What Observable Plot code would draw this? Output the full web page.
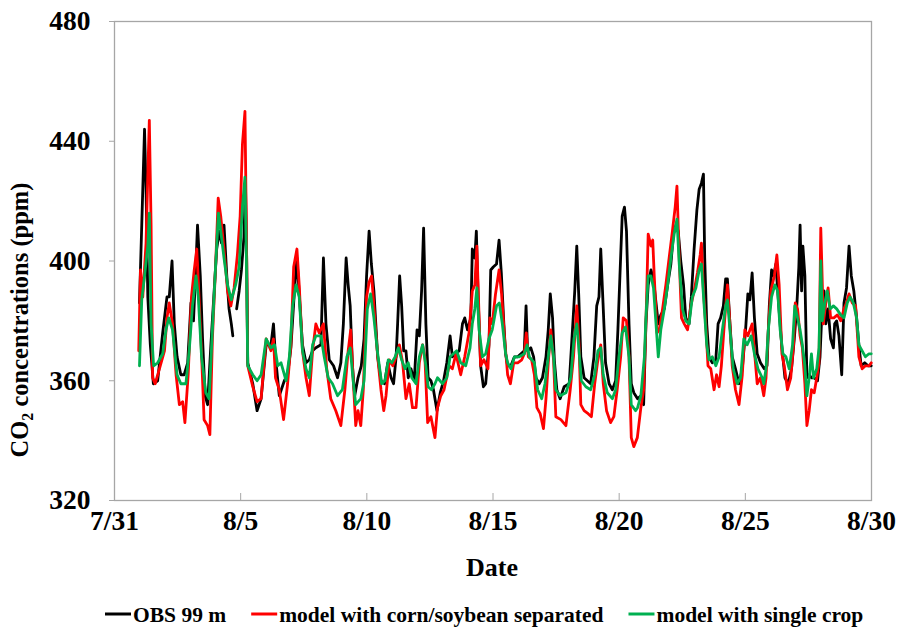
<!DOCTYPE html>
<html><head><meta charset="utf-8">
<script src="https://cdn.jsdelivr.net/npm/d3@7"></script>
<script src="https://cdn.jsdelivr.net/npm/@observablehq/plot@0.6"></script>
<style>
body{margin:0;background:#fff}
#chart svg text{font-family:"Liberation Serif","Times New Roman",serif;font-weight:bold}
</style>
</head><body><div id="chart"></div>
<script>
// Axis ticks (days since 7/31 00:00) and labels
const xTickDays = [0, 5, 10, 15, 20, 25, 30];
const xTickLabels = ["7/31", "8/5", "8/10", "8/15", "8/20", "8/25", "8/30"];
const yTicks = [320, 360, 400, 440, 480];
const seriesNames = ["OBS 99 m", "model with corn/soybean separated", "model with single crop"];
const seriesColors = ["#000000", "#ff0000", "#00b050"];

// OBS 99 m
const obsDay = [0.99,1.08,1.19,1.25,1.32,1.42,1.54,1.71,1.91,2.08,2.17,2.28,2.37,2.48,2.63,2.76,2.90,3.03,3.13,3.23,3.29,3.40,3.49,3.59,3.69,3.82,3.95,4.05,4.15,4.24,4.34,4.45,4.54,4.63,4.69,4.76,4.84,4.94,5.03,5.13,5.19,5.24,5.28,5.48,5.65,5.81,6.01,6.20,6.30,6.38,6.53,6.73,6.86,6.99,7.13,7.23,7.32,7.45,7.59,7.72,7.85,7.98,8.18,8.28,8.38,8.51,8.68,8.84,8.97,9.07,9.18,9.26,9.34,9.43,9.52,9.65,9.78,9.89,9.99,10.09,10.18,10.28,10.43,10.56,10.70,10.83,10.96,11.06,11.16,11.22,11.30,11.38,11.46,11.55,11.64,11.75,11.88,11.99,12.08,12.17,12.25,12.34,12.43,12.54,12.64,12.78,12.91,13.04,13.17,13.30,13.39,13.53,13.66,13.79,13.88,13.99,14.12,14.18,14.28,14.34,14.41,14.51,14.62,14.71,14.84,14.91,15.01,15.14,15.24,15.33,15.43,15.50,15.58,15.71,15.85,15.98,16.11,16.24,16.31,16.37,16.50,16.61,16.70,16.83,16.96,17.10,17.19,17.27,17.36,17.43,17.53,17.66,17.82,18.02,18.15,18.24,18.32,18.40,18.48,18.61,18.74,18.87,19.00,19.11,19.20,19.27,19.36,19.46,19.60,19.73,19.86,19.95,20.03,20.12,20.21,20.29,20.39,20.48,20.58,20.73,20.86,20.97,21.06,21.15,21.26,21.36,21.46,21.55,21.65,21.79,21.92,22.05,22.15,22.25,22.34,22.44,22.55,22.64,22.77,22.86,22.97,23.08,23.17,23.26,23.34,23.39,23.47,23.56,23.69,23.83,23.92,24.02,24.13,24.22,24.29,24.39,24.48,24.61,24.75,24.88,25.01,25.10,25.18,25.27,25.36,25.47,25.60,25.75,25.86,25.95,26.04,26.12,26.21,26.30,26.44,26.57,26.70,26.83,26.94,27.04,27.12,27.17,27.23,27.28,27.36,27.44,27.53,27.62,27.73,27.86,27.96,28.05,28.12,28.19,28.28,28.38,28.49,28.54,28.62,28.71,28.82,28.91,29.01,29.11,29.20,29.30,29.41,29.50,29.59,29.73,29.86,29.99];
const obsPpm = [386,412,444,424,388,372,359,360,376,388,388,400,379,368,362,362,366,386,380,399,412,395,374,355,352,372,390,404,410,406,412,395,384,379,375,null,384,390,397,408,426,400,366,359,350,354,372,372,379,368,355,360,362,371,390,401,389,372,366,367,370,371,372,401,379,367,365,361,366,379,401,392,385,365,355,361,365,374,395,410,399,390,368,360,359,366,361,359,368,379,395,385,370,370,361,364,360,377,375,390,411,379,361,360,357,350,356,360,366,375,368,369,370,379,381,377,381,404,401,410,388,365,358,359,372,397,398,399,407,396,379,369,365,365,368,368,369,370,385,370,371,368,361,359,361,368,377,389,381,367,357,354,358,359,377,390,405,388,368,361,360,359,368,385,388,404,386,366,359,357,360,377,395,415,418,410,379,359,356,354,355,352,379,392,397,394,386,379,382,384,392,399,409,412,410,400,392,381,379,388,404,417,424,426,429,401,379,368,366,367,379,381,385,394,394,379,368,364,359,364,377,389,387,396,381,369,366,364,365,385,397,395,399,388,372,361,359,364,374,385,398,412,390,405,395,361,362,361,361,360,368,386,390,379,384,374,371,379,380,375,362,386,391,405,395,390,381,372,365,366,365,365];

// model with corn/soybean separated
const cornDay = [0.96,1.03,1.12,1.25,1.34,1.38,1.45,1.51,1.61,1.78,1.98,2.08,2.17,2.30,2.44,2.57,2.70,2.79,2.92,3.05,3.16,3.26,3.36,3.45,3.55,3.69,3.78,3.88,4.01,4.11,4.21,4.34,4.48,4.61,4.74,4.87,4.98,5.07,5.17,5.22,5.28,5.48,5.65,5.81,6.01,6.20,6.30,6.38,6.53,6.70,6.86,6.99,7.10,7.23,7.32,7.45,7.59,7.72,7.85,7.98,8.11,8.28,8.41,8.57,8.77,8.97,9.13,9.26,9.36,9.47,9.56,9.65,9.76,9.86,9.99,10.09,10.19,10.28,10.43,10.56,10.67,10.76,10.89,11.03,11.16,11.29,11.42,11.55,11.68,11.81,11.95,12.08,12.21,12.30,12.41,12.54,12.70,12.80,12.93,13.06,13.26,13.39,13.53,13.72,13.88,14.05,14.18,14.28,14.36,14.43,14.51,14.64,14.80,14.88,14.97,15.10,15.24,15.34,15.46,15.58,15.69,15.82,15.98,16.14,16.24,16.32,16.40,16.53,16.64,16.74,16.87,17.00,17.10,17.19,17.29,17.40,17.49,17.69,17.89,18.06,18.19,18.32,18.41,18.48,18.61,18.77,18.90,19.03,19.14,19.27,19.37,19.50,19.66,19.79,19.92,20.06,20.16,20.29,20.39,20.48,20.58,20.72,20.86,20.97,21.06,21.15,21.26,21.33,21.39,21.50,21.59,21.72,21.85,21.98,22.11,22.22,22.29,22.38,22.47,22.58,22.71,22.84,22.97,23.10,23.21,23.26,23.34,23.43,23.52,23.63,23.76,23.86,23.96,24.05,24.15,24.29,24.39,24.48,24.61,24.75,24.88,24.98,25.10,25.27,25.36,25.47,25.60,25.73,25.82,25.91,26.01,26.15,26.25,26.34,26.45,26.54,26.67,26.80,26.91,26.98,27.07,27.17,27.26,27.36,27.44,27.53,27.62,27.73,27.83,27.92,27.99,28.03,28.09,28.19,28.28,28.38,28.51,28.65,28.78,28.91,29.01,29.11,29.24,29.37,29.50,29.63,29.76,29.90,29.99];
const cornPpm = [370,397,388,406,435,447,412,361,359,364,370,381,386,379,362,352,353,346,362,388,397,404,386,369,347,345,342,374,399,421,415,404,390,385,391,402,415,439,450,415,365,358,353,354,374,370,374,361,357,347,359,372,398,404,392,370,361,355,370,379,376,379,364,354,350,345,357,370,377,359,345,350,345,357,388,393,395,385,368,357,350,355,367,365,368,372,366,354,359,351,351,366,372,368,346,348,341,351,355,357,365,364,369,362,368,376,390,392,405,386,365,367,364,381,379,389,397,389,374,362,359,366,366,367,369,376,368,367,362,351,349,344,354,366,377,367,348,347,345,357,368,385,372,352,350,349,348,359,366,372,359,350,346,348,357,368,381,380,368,341,338,341,351,357,379,409,405,407,395,376,377,384,392,401,410,418,425,401,381,379,377,385,390,396,402,406,390,379,365,364,357,362,358,365,377,392,379,365,357,352,362,377,375,379,370,359,361,355,361,377,390,395,402,392,369,365,357,361,372,386,384,375,371,359,345,350,357,356,361,366,411,399,379,386,391,381,381,382,380,384,386,389,386,385,368,364,365,365,366];

// model with single crop
const singleDay = [0.99,1.08,1.19,1.32,1.38,1.45,1.55,1.71,1.91,2.04,2.15,2.30,2.48,2.63,2.83,2.96,3.09,3.23,3.32,3.45,3.62,3.75,3.88,4.01,4.12,4.21,4.34,4.48,4.63,4.80,4.94,5.07,5.17,5.22,5.28,5.48,5.65,5.81,6.01,6.20,6.34,6.47,6.60,6.80,6.93,7.06,7.19,7.32,7.45,7.59,7.72,7.85,7.98,8.18,8.31,8.47,8.64,8.84,9.03,9.21,9.34,9.47,9.56,9.76,9.89,10.02,10.15,10.28,10.43,10.59,10.72,10.85,10.99,11.12,11.25,11.38,11.51,11.64,11.78,11.95,12.08,12.21,12.34,12.43,12.56,12.70,12.80,13.00,13.17,13.30,13.43,13.56,13.72,13.92,14.09,14.18,14.28,14.36,14.45,14.58,14.71,14.84,14.97,15.14,15.25,15.37,15.50,15.58,15.71,15.85,16.04,16.24,16.35,16.44,16.64,16.77,16.93,17.06,17.19,17.29,17.40,17.49,17.66,17.89,18.08,18.21,18.32,18.41,18.50,18.68,18.87,19.03,19.16,19.27,19.37,19.53,19.73,19.86,19.99,20.12,20.25,20.39,20.48,20.65,20.73,20.86,21.00,21.06,21.15,21.26,21.36,21.46,21.55,21.65,21.79,21.92,22.05,22.18,22.29,22.38,22.51,22.64,22.77,22.90,23.04,23.17,23.26,23.36,23.47,23.56,23.69,23.83,23.96,24.09,24.22,24.29,24.39,24.52,24.68,24.81,24.94,25.07,25.23,25.36,25.50,25.67,25.73,25.82,25.91,26.04,26.17,26.28,26.38,26.49,26.61,26.74,26.87,26.96,27.07,27.17,27.26,27.36,27.44,27.53,27.62,27.70,27.83,27.92,27.99,28.05,28.15,28.25,28.36,28.49,28.62,28.78,28.91,29.04,29.15,29.28,29.41,29.50,29.63,29.76,29.90,29.99];
const singlePpm = [365,387,395,405,416,379,365,366,369,377,381,377,362,359,359,370,385,395,388,368,356,354,377,399,416,410,401,392,387,392,398,418,428,405,365,362,360,362,374,371,372,365,366,360,368,385,392,388,370,364,361,372,375,375,368,361,359,355,357,368,371,359,352,354,360,384,389,381,369,359,360,367,366,368,371,367,364,366,361,359,368,372,365,358,357,359,361,359,361,368,369,370,366,365,371,379,384,391,377,368,369,374,377,385,386,379,369,366,364,368,368,369,372,368,366,357,354,359,368,375,368,357,355,356,361,374,379,370,360,358,357,362,370,371,362,356,354,357,368,376,378,368,352,350,351,355,368,381,395,395,391,379,368,377,384,392,401,409,414,399,384,380,379,388,391,397,399,386,372,367,368,365,368,377,385,387,377,364,359,361,374,372,375,369,364,361,359,364,377,388,392,390,377,369,368,364,372,385,381,377,372,365,355,361,369,361,364,371,400,380,386,390,384,385,384,382,381,386,388,386,381,372,370,368,369,369];

const rows = (days, ppm, s) => days.map((d, i) => ({day: d, ppm: ppm[i], series: s}));
const FONT = '"Liberation Serif","Times New Roman",serif';

const chart = Plot.plot({
  width: 899,
  height: 628,
  marginLeft: 114,
  marginRight: 28,
  marginTop: 21,
  marginBottom: 128,
  style: {fontFamily: FONT, fontWeight: "bold", fontSize: "27px", background: "#fff", color: "#000"},
  x: {domain: [0, 30]},
  y: {domain: [320, 480]},
  marks: [
    Plot.frame({stroke: "#a6a6a6", strokeWidth: 1.3}),
    Plot.axisY({ticks: yTicks, tickSize: 5, tickPadding: 19, stroke: "#a6a6a6", fill: "#000", label: null, fontSize: 27.5, fontWeight: "bold"}),
    Plot.axisX({ticks: xTickDays, tickFormat: d => xTickLabels[xTickDays.indexOf(d)], tickSize: -7, tickPadding: 17, stroke: "#a6a6a6", fill: "#000", label: null, fontSize: 27.5, fontWeight: "bold"}),
    Plot.line(rows(obsDay, obsPpm, seriesNames[0]), {x: "day", y: "ppm", stroke: seriesColors[0], strokeWidth: 2.8, curve: "linear"}),
    Plot.line(rows(cornDay, cornPpm, seriesNames[1]), {x: "day", y: "ppm", stroke: seriesColors[1], strokeWidth: 2.8, curve: "linear"}),
    Plot.line(rows(singleDay, singlePpm, seriesNames[2]), {x: "day", y: "ppm", stroke: seriesColors[2], strokeWidth: 2.8, curve: "linear"})
  ]
});
document.getElementById("chart").appendChild(chart);

const svg = d3.select(chart);
// y-axis title with subscript
const yt = svg.append("text")
  .attr("transform", "translate(28,320) rotate(-90)")
  .attr("text-anchor", "middle")
  .style("font-family", FONT).style("font-weight", "bold").style("font-size", "24.5px").attr("fill", "#000");
yt.append("tspan").text("CO");
yt.append("tspan").attr("dy", 5).style("font-size", "16px").text("2");
yt.append("tspan").attr("dy", -5).text(" concentrations (ppm)");

// x-axis title
svg.append("text").attr("x", 492).attr("y", 576).attr("text-anchor", "middle")
  .style("font-family", FONT).style("font-weight", "bold").style("font-size", "26px").attr("fill", "#000")
  .text("Date");

// legend
let lx = 105;
const ly = 614;
seriesNames.forEach((name, i) => {
  svg.append("line").attr("x1", lx).attr("x2", lx + 26).attr("y1", ly).attr("y2", ly)
    .attr("stroke", seriesColors[i]).attr("stroke-width", 3);
  const t = svg.append("text").attr("x", lx + 28).attr("y", ly).attr("dy", "0.35em")
    .attr("text-anchor", "start")
    .style("font-family", FONT).style("font-weight", "bold").style("font-size", "21.5px").attr("fill", "#000")
    .text(name);
  lx += 28 + t.node().getComputedTextLength() + 25;
});
</script>
</body></html>
